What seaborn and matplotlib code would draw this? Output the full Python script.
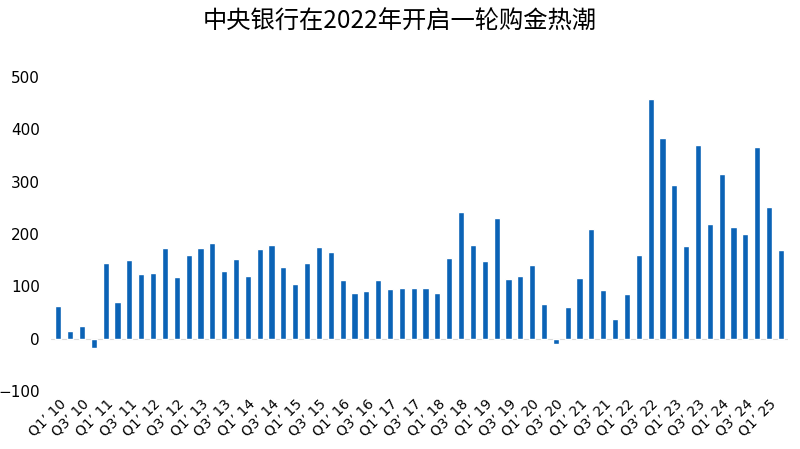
import pandas as pd
import numpy as np
import matplotlib
matplotlib.use("Agg")
import matplotlib.pyplot as plt
import seaborn as sns

# quarterly central bank gold purchases (tonnes), Q1'10 - Q2'25
years = list(range(10, 26))
quarters = [f"Q{q}’ {y}" for y in years for q in (1, 2, 3, 4)][:62]

values = [
    63, 15, 25, -18,        # 2010
    144, 70, 150, 123,      # 2011
    125, 173, 118, 160,     # 2012
    173, 183, 129, 152,     # 2013
    120, 171, 179, 137,     # 2014
    104, 144, 175, 165,     # 2015
    113, 87, 92, 113,       # 2016
    94, 97, 97, 96,         # 2017
    88, 154, 242, 179,      # 2018
    148, 230, 114, 120,     # 2019
    141, 66, -11, 61,       # 2020
    116, 210, 93, 37,       # 2021
    85, 160, 458, 384,      # 2022
    293, 177, 370, 219,     # 2023
    315, 213, 200, 366,     # 2024
    251, 169,               # 2025
]

df = pd.DataFrame({"quarter": quarters, "tonnes": values})

sns.set_style("white")
plt.rcParams["font.family"] = ["Noto Sans CJK SC", "DejaVu Sans"]
plt.rcParams["text.color"] = "black"
plt.rcParams["xtick.color"] = "black"
plt.rcParams["ytick.color"] = "black"

fig = plt.figure(figsize=(8, 4.49), dpi=100)
ax = fig.add_axes([0.064, 0.129, 0.921, 0.7])

sns.barplot(data=df, x="quarter", y="tonnes", color="#0B63B6",
            width=0.52, saturation=1, ax=ax)

ax.axhline(0, color="#d9d9d9", linewidth=0.8, zorder=0)
ax.set_ylim(-100, 500)
ax.set_yticks(range(-100, 501, 100))
ax.set_xlim(-0.6, len(quarters) - 0.4)

tick_pos = list(range(0, len(quarters), 2))
ax.set_xticks(tick_pos)
ax.set_xticklabels([quarters[i] for i in tick_pos], rotation=45,
                   ha="right", va="top", rotation_mode="anchor",
                   fontsize=10, family="DejaVu Sans")
ax.tick_params(axis="x", length=0, pad=4)
ax.tick_params(axis="y", length=0, labelsize=11, pad=8)
for lbl in ax.get_yticklabels():
    lbl.set_family("DejaVu Sans")

ax.set_xlabel("")
ax.set_ylabel("")
sns.despine(ax=ax, left=True, bottom=True)

fig.suptitle("中央银行在2022年开启一轮购金热潮", y=0.98, fontsize=17.5)

fig.savefig("out.png", dpi=100)
